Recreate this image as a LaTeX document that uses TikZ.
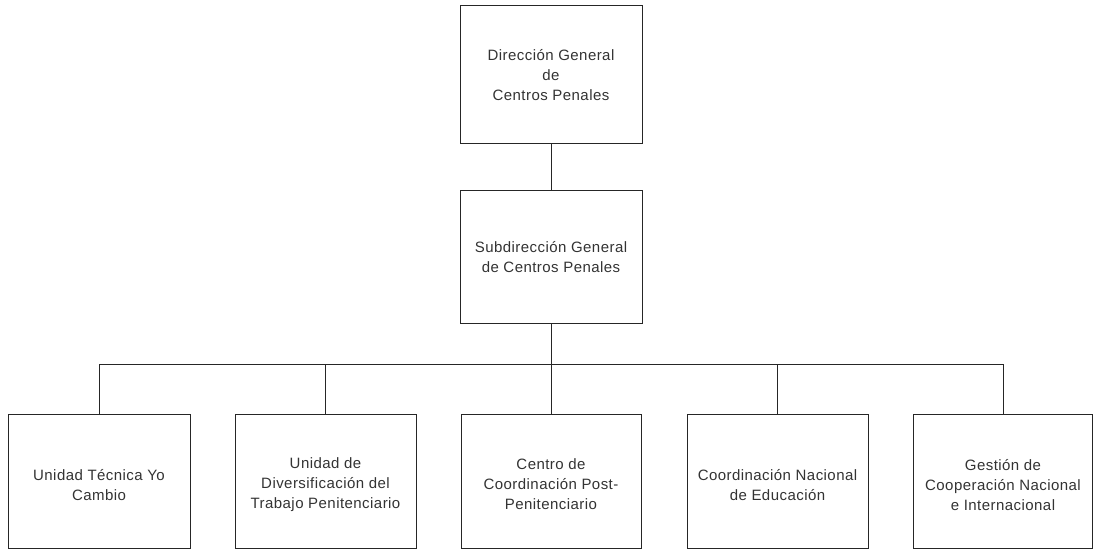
\documentclass[tikz,border=0pt]{standalone}
\usepackage{fontspec}
\setmainfont{Liberation Sans}[LetterSpace=3]
\begin{document}
\begin{tikzpicture}[x=1pt,y=-1pt,
  box/.style={draw=black!85,line width=0.9pt,minimum width=182pt,inner sep=0pt},
  lbl/.style={text=black!80,align=center,font=\fontsize{15}{20}\selectfont,inner sep=0pt},
  conn/.style={draw=black!85,line width=0.9pt}]
\useasboundingbox (0,0) rectangle (1093,550);
% boxes
\node[box,minimum height=138pt] (top) at (551,74) {};
\node[box,minimum height=133pt] (sub) at (551,256.5) {};
\node[box,minimum height=134pt] (b1) at (99,481) {};
\node[box,minimum height=134pt,minimum width=181pt] (b2) at (325.5,481) {};
\node[box,minimum height=134pt,minimum width=180pt] (b3) at (551,481) {};
\node[box,minimum height=134pt,minimum width=181pt] (b4) at (777.5,481) {};
\node[box,minimum height=134pt,minimum width=179pt] (b5) at (1003,481) {};
% labels
\node[lbl] (ttop) at (551,75) {Dirección General\\de\\Centros Penales};
\node[lbl] (tsub) at (551,257) {Subdirección General\\de Centros Penales};
\node[lbl] (t1) at (99,485.5) {Unidad Técnica Yo\\Cambio};
\node[lbl] (t2) at (325.5,485) {Unidad de\\Diversificación del\\Trabajo Penitenciario};
\node[lbl] (t3) at (551,484.5) {Centro de\\Coordinación Post-\\Penitenciario};
\node[lbl] (t4) at (777.5,485) {Coordinación Nacional\\de Educación};
\node[lbl] (t5) at (1003,485) {Gestión de\\Cooperación Nacional\\e Internacional};
% connectors
\coordinate (bus) at (551,364);
\draw[conn] (top.south) -- (sub.north);
\draw[conn] (sub.south) -- (bus);
\foreach \b in {b1,b2,b3,b4,b5}{\draw[conn] (bus) -| (\b.north);}
\end{tikzpicture}
\end{document}
